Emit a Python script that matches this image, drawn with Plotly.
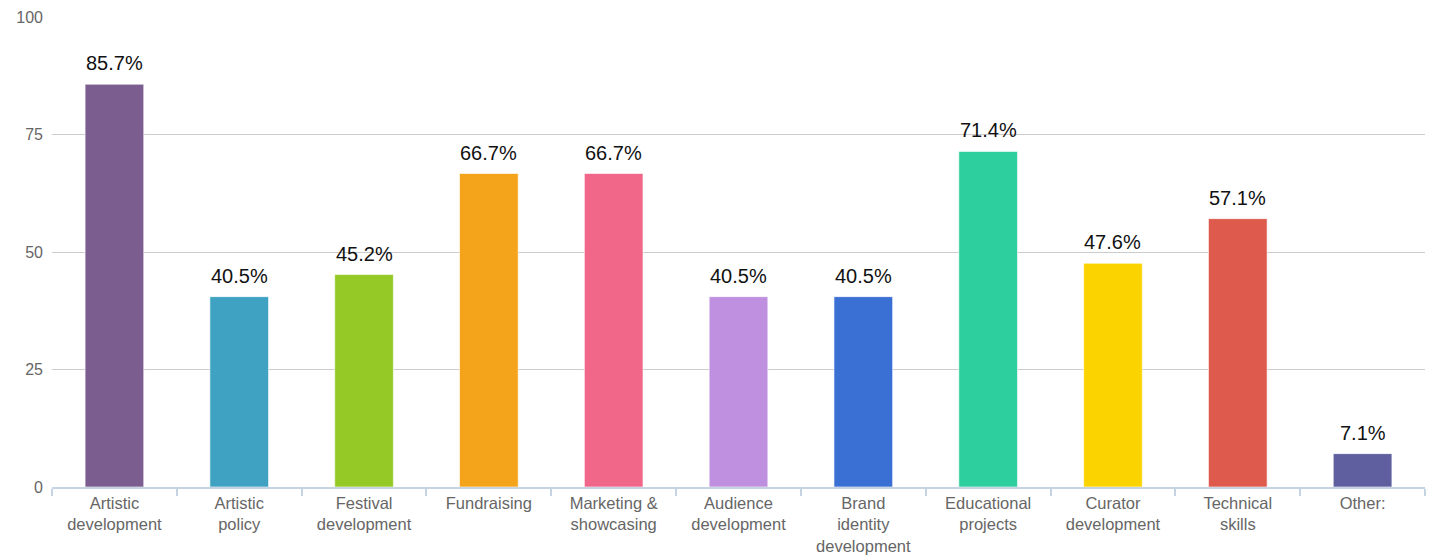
import plotly.graph_objects as go

categories = ["Artistic<br>development", "Artistic<br>policy", "Festival<br>development",
              "Fundraising", "Marketing &<br>showcasing", "Audience<br>development",
              "Brand<br>identity<br>development", "Educational<br>projects",
              "Curator<br>development", "Technical<br>skills", "Other:"]
values = [85.7, 40.5, 45.2, 66.7, 66.7, 40.5, 40.5, 71.4, 47.6, 57.1, 7.1]
colors = ["#7b5e8f", "#3fa2c2", "#95c926", "#f4a41a", "#f0678a", "#bf90e0",
          "#3a6fd4", "#2ecf9e", "#fbd400", "#dd5a4c", "#5f5fa0"]
y_ticks = [0, 25, 50, 75, 100]

font = "Liberation Sans, Arial, Helvetica, sans-serif"

fig = go.Figure(go.Bar(
    x=categories, y=values,
    marker=dict(color=colors, line=dict(color="rgba(255,255,255,0.6)", width=1)),
    width=0.47,
    hoverinfo="x+y",
))

for c, v in zip(categories, values):
    fig.add_annotation(x=c, y=v, text=f"{v}%", showarrow=False,
                       yanchor="bottom", yshift=8,
                       font=dict(family=font, size=20, color="#111"))

fig.update_layout(
    width=1426, height=552,
    margin=dict(l=44, r=9, t=9, b=73),
    plot_bgcolor="white", paper_bgcolor="white",
    showlegend=False,
    font=dict(family=font),
    xaxis=dict(
        automargin=False,
        showgrid=False, showline=True, linecolor="#c5d3e3", linewidth=2,
        ticks="outside", tickson="boundaries", tickcolor="#c5d3e3",
        ticklen=7, tickwidth=2,
        tickfont=dict(family=font, size=16.5, color="#666"),
    ),
    yaxis=dict(
        automargin=False,
        range=[0, 100], tickvals=y_ticks, showgrid=True, gridcolor="#cccccc",
        gridwidth=1, zeroline=False, showline=False, ticks="",
        ticklabelstandoff=8,
        tickfont=dict(family=font, size=16, color="#666"),
    ),
)

fig.write_html("out.html")
